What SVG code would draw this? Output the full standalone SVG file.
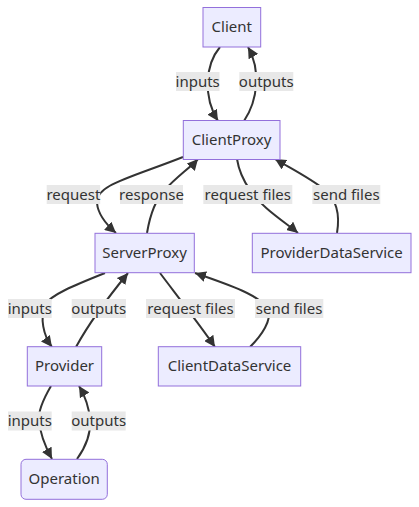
<svg xmlns="http://www.w3.org/2000/svg" width="419" height="507" viewBox="0 0 419 507">
<style>
.node rect{fill:#ECECFF;stroke:#9370DB;stroke-width:1}
text{font-family:"Noto Sans","Open Sans","DejaVu Sans",sans-serif;font-size:15px;fill:#333;text-anchor:middle;dominant-baseline:central}
.edge{fill:none;stroke:#333;stroke-width:2;marker-end:url(#arrow)}
.lbl rect{fill:#e8e8e8}
</style>
<defs>
<marker id="arrow" viewBox="0 0 10 10" refX="10" refY="5" markerUnits="userSpaceOnUse" markerWidth="11" markerHeight="11" orient="auto">
<path d="M0,0 L10,5 L0,10 z" fill="#333"/>
</marker>
</defs>
<rect width="419" height="507" fill="#fff"/>
<g id="connectors">
<path class="edge" d="M220,47 C205,65 203,97 218,121"/>
<path class="edge" d="M244,121 C258,100 261,70 248,47"/>
<path class="edge" d="M183,157 C130,178 95,185 97,203 C98,215 108,226 116,233"/>
<path class="edge" d="M147,233 C150,215 155,200 165,190 C175,178 190,168 198,159"/>
<path class="edge" d="M237,159 C239,172 243,180 250,190 C262,208 285,222 298,233"/>
<path class="edge" d="M337,233 C340,215 337,200 325,190 C310,178 290,168 275,159"/>
<path class="edge" d="M105,273 C75,285 50,295 45,305 C40,318 43,335 52,347"/>
<path class="edge" d="M76,347 C88,325 110,295 128,273"/>
<path class="edge" d="M160,273 C175,293 200,325 215,347"/>
<path class="edge" d="M250,347 C262,335 272,320 268,310 C262,296 230,285 195,273"/>
<path class="edge" d="M51,386 C44,398 38,410 39,420 C40,435 46,448 52,459"/>
<path class="edge" d="M77,459 C85,448 91,435 90,420 C89,405 85,396 79,386"/>
</g>
<g id="edge-labels">
<g class="lbl"><rect x="176" y="72" width="43.5" height="19"/><text x="197.7" y="80.5">inputs</text></g>
<g class="lbl"><rect x="239.3" y="72" width="54" height="19"/><text x="266.3" y="80.5">outputs</text></g>
<g class="lbl"><rect x="46.7" y="185" width="53.5" height="19"/><text x="73.4" y="193.5">request</text></g>
<g class="lbl"><rect x="120" y="185" width="63" height="19"/><text x="151.5" y="193.5">response</text></g>
<g class="lbl"><rect x="203.3" y="185" width="89" height="19"/><text x="247.8" y="193.5">request files</text></g>
<g class="lbl"><rect x="312.3" y="185" width="68" height="19"/><text x="346.3" y="193.5">send files</text></g>
<g class="lbl"><rect x="8" y="299" width="43.7" height="19"/><text x="29.8" y="307.5">inputs</text></g>
<g class="lbl"><rect x="71.7" y="299" width="54.3" height="19"/><text x="98.8" y="307.5">outputs</text></g>
<g class="lbl"><rect x="146" y="299" width="89" height="19"/><text x="190.5" y="307.5">request files</text></g>
<g class="lbl"><rect x="255" y="299" width="68.3" height="19"/><text x="289.1" y="307.5">send files</text></g>
<g class="lbl"><rect x="8" y="411.5" width="43.7" height="19"/><text x="29.8" y="420">inputs</text></g>
<g class="lbl"><rect x="71.7" y="411.5" width="54" height="19"/><text x="98.7" y="420">outputs</text></g>
</g>
<g id="Client" class="node"><rect x="203" y="7.5" width="57.7" height="39.5"/><text x="231.8" y="26.3">Client</text></g>
<g id="ClientProxy" class="node"><rect x="183.3" y="120.5" width="96.7" height="39"/><text x="231.6" y="139">ClientProxy</text></g>
<g id="ServerProxy" class="node"><rect x="95" y="233.3" width="99.3" height="39.4"/><text x="144.6" y="252">ServerProxy</text></g>
<g id="ProviderDataService" class="node"><rect x="252.3" y="233.3" width="158.7" height="39.4"/><text x="331.6" y="252">ProviderDataService</text></g>
<g id="Provider" class="node"><rect x="27.3" y="346.7" width="74.4" height="39.3"/><text x="64.5" y="365.3">Provider</text></g>
<g id="ClientDataService" class="node"><rect x="158.3" y="346.7" width="142.4" height="39.3"/><text x="229.5" y="365.3">ClientDataService</text></g>
<g id="Operation" class="node"><rect x="21" y="459.3" width="86.3" height="40" rx="5" ry="5"/><text x="64.2" y="478.3">Operation</text></g>
</svg>
